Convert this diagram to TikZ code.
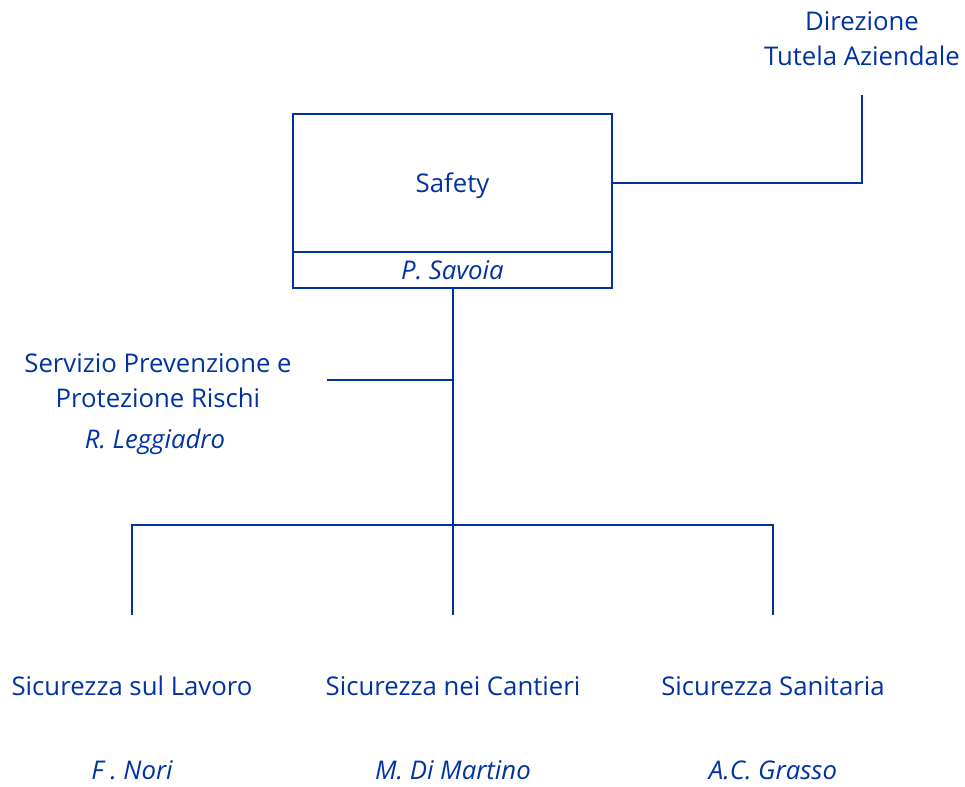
\documentclass[tikz,border=0pt]{standalone}
\usepackage{fontspec}
\setmainfont{Open Sans}
\usepackage{tikz}
\usetikzlibrary{positioning}

\definecolor{orgblue}{RGB}{0,51,160}

\tikzset{
    unit/.style={text=orgblue, font=\fontsize{19.3}{26.5}\selectfont, align=center},
    person/.style={text=orgblue, font=\fontsize{19.3}{26.5}\selectfont\itshape},
    link/.style={draw=orgblue, line width=1.5pt}
}

\begin{document}
\begin{tikzpicture}[x=0.75pt, y=-0.75pt]

    \useasboundingbox (0,0) rectangle (965,787);

    % Safety box
    \node[draw=orgblue,
        line width=2.2pt,
        minimum width=319*0.75pt,
        minimum height=138*0.75pt,
        text depth=0pt,
        unit
    ] (safety) at (452.5,183) {Safety};

    \node[draw=orgblue,
        line width=2.2pt,
        minimum width=319*0.75pt,
        minimum height=36*0.75pt,
        person
    ] (savoia) at (452.5,270) {P. Savoia};

    % Direzione
    \node[unit] (direzione) at (862,38.5) {Direzione\\Tutela Aziendale};
    \coordinate (dirend) at (862,95);

    % Staff
    \node[unit] (servizio) at (158,381) {Servizio Prevenzione e\\Protezione Rischi};
    \node[person] (leggiadro) at (155,442) {R. Leggiadro};
    \coordinate (staffend) at (327,380);

    % Tree
    \coordinate (hub) at (453,525);
    \coordinate (lavoroend) at (132,615);
    \coordinate (cantieriend) at (453,615);
    \coordinate (sanitariaend) at (773,615);

    \node[unit] (lavoro) at (132,686) {Sicurezza sul Lavoro};
    \node[unit] (cantieri) at (453,686) {Sicurezza nei Cantieri};
    \node[unit] (sanitaria) at (773,686) {Sicurezza Sanitaria};

    \node[person] (nori) at (132,770) {F . Nori};
    \node[person] (martino) at (453,770) {M. Di Martino};
    \node[person] (grasso) at (773,770) {A.C. Grasso};

    % Connectors
    \draw[link] (safety.east) -| (dirend);
    \draw[link] (savoia.south -| hub) -- (hub);
    \draw[link] (staffend) -- (staffend -| hub);
    \draw[link] (lavoroend) |- (hub) -| (sanitariaend);
    \draw[link] (hub) -- (cantieriend);

\end{tikzpicture}
\end{document}
